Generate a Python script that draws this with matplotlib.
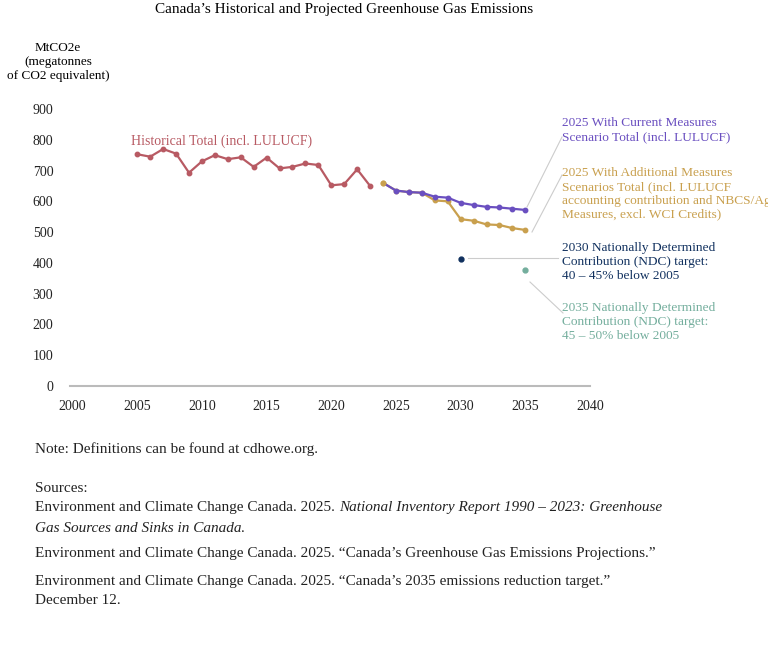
import matplotlib
matplotlib.use("Agg")
import matplotlib.pyplot as plt

plt.rcParams['font.family'] = ['Liberation Serif', 'DejaVu Serif']

hist_years = list(range(2005, 2024))
hist_vals = [753, 745, 770, 755, 693, 730, 750, 737, 743, 712, 742, 707, 712, 723, 718, 652, 656, 704, 650]
proj_years = list(range(2024, 2036))
wcm_vals = [660, 635, 630, 628, 615, 612, 595, 588, 582, 580, 576, 572]
wam_vals = [660, 635, 630, 628, 603, 600, 542, 537, 525, 523, 513, 507]
ndc2030 = (2030, 413)
ndc2035 = (2035, 376)
x_ticks = list(range(2000, 2041, 5))
y_ticks = list(range(0, 901, 100))

c_hist = '#b85a63'; c_wcm = '#6a4fc0'; c_wam = '#c9a04e'; c_n30 = '#10305e'; c_n35 = '#74ae9d'

fig = plt.figure(figsize=(7.68, 6.51), dpi=100)
ax = fig.add_axes([70/768, 1-386/651, 520/768, (386-109)/651])
ax.plot(hist_years, hist_vals, color=c_hist, marker='o', ms=3.2, lw=1.6)
ax.plot(proj_years, wam_vals, color=c_wam, marker='o', ms=3.2, lw=1.6)
ax.plot(proj_years[1:], wcm_vals[1:], color=c_wcm, marker='o', ms=3.2, lw=1.6)
ax.plot(proj_years[:2], wcm_vals[:2], color=c_wcm, lw=1.6)
ax.plot(proj_years[0], wam_vals[0], 'o', color=c_wam, ms=3.2, zorder=5)
ax.plot(*ndc2030, 'o', color=c_n30, ms=3.5)
ax.plot(*ndc2035, 'o', color=c_n35, ms=3.5)
ax.set_xlim(1999.8, 2040)
ax.set_ylim(0, 900)
ax.set_xticks(x_ticks); ax.set_yticks(y_ticks)
for s in ['top', 'right', 'left']:
    ax.spines[s].set_visible(False)
ax.spines['bottom'].set_color('#bbbbbb'); ax.spines['bottom'].set_linewidth(1.5)
ax.tick_params(length=0, labelsize=10, colors='#222222', pad=10)
ax.tick_params(axis='y', pad=12)

fs = 9.6
ax.text(2004.5, 785, 'Historical Total (incl. LULUCF)', color=c_hist, fontsize=10)
fig.text(562/768, 1-130/651, '2025 With Current Measures\nScenario Total (incl. LULUCF)', color=c_wcm, fontsize=fs, va='center', linespacing=1.2)
fig.text(562/768, 1-194/651, '2025 With Additional Measures\nScenarios Total (incl. LULUCF\naccounting contribution and NBCS/Ag\nMeasures, excl. WCI Credits)', color=c_wam, fontsize=fs, va='center', linespacing=1.2)
fig.text(562/768, 1-262/651, '2030 Nationally Determined\nContribution (NDC) target:\n40 – 45% below 2005', color=c_n30, fontsize=fs, va='center', linespacing=1.2)
fig.text(562/768, 1-322/651, '2035 Nationally Determined\nContribution (NDC) target:\n45 – 50% below 2005', color=c_n35, fontsize=fs, va='center', linespacing=1.2)

lc = '#cccccc'
def fl(x0, y0, x1, y1):
    fig.add_artist(plt.Line2D([x0/768, x1/768], [1-y0/651, 1-y1/651], color=lc, lw=0.8))
fl(527, 207, 562, 137)
fl(532, 232, 562, 175)
fl(468, 258, 558, 258)
fl(530, 282, 563, 313)

fig.text(344/768, 1-9/651, "Canada’s Historical and Projected Greenhouse Gas Emissions", fontsize=11, ha='center', va='center')
fig.text(58/768, 1-62/651, 'MtCO2e\n(megatonnes\nof CO2 equivalent)', fontsize=9.5, ha='center', va='center', linespacing=1.25)

tc = '#222222'
fig.text(35/768, 1-449/651, 'Note: Definitions can be found at cdhowe.org.', fontsize=11, va='center', color=tc)
fig.text(35/768, 1-489/651, 'Sources:', fontsize=11, va='center', color=tc)
t1 = fig.text(35/768, 1-508/651, 'Environment and Climate Change Canada. 2025. ', fontsize=11, va='center', color=tc)
fig.canvas.draw()
bb = t1.get_window_extent()
fig.text(bb.x1/768, 1-508/651, 'National Inventory Report 1990 – 2023: Greenhouse', fontsize=11, va='center', color=tc, style='italic')
t2 = fig.text(35/768, 1-528/651, 'Gas Sources and Sinks in Canada', fontsize=11, va='center', color=tc, style='italic')
fig.canvas.draw()
bb2 = t2.get_window_extent()
fig.text(bb2.x1/768, 1-528/651, '.', fontsize=11, va='center', color=tc)
fig.text(35/768, 1-554/651, 'Environment and Climate Change Canada. 2025. “Canada’s Greenhouse Gas Emissions Projections.”', fontsize=11, va='center', color=tc)
fig.text(35/768, 1-581/651, 'Environment and Climate Change Canada. 2025. “Canada’s 2035 emissions reduction target.”', fontsize=11, va='center', color=tc)
fig.text(35/768, 1-601/651, 'December 12.', fontsize=11, va='center', color=tc)

fig.savefig('out.png', dpi=100, facecolor='white')
